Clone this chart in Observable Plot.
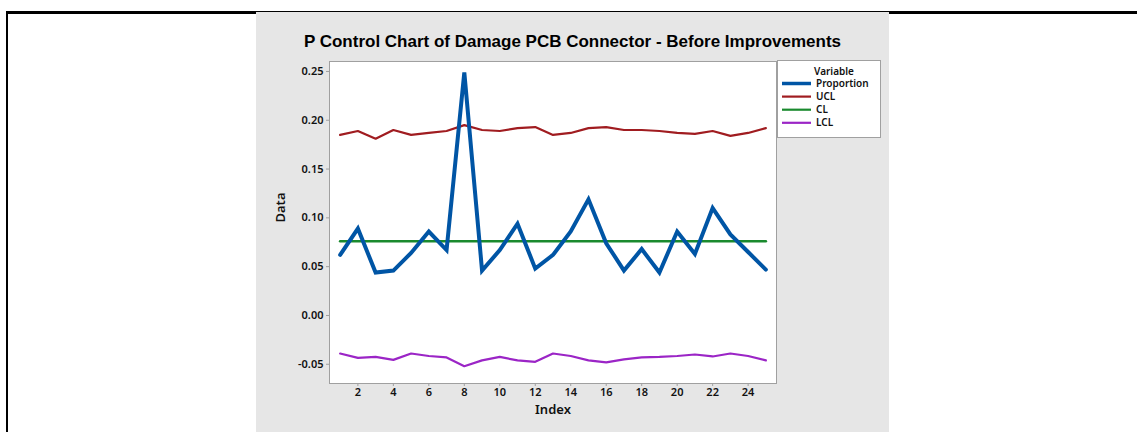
<!DOCTYPE html>
<html>
<head>
<meta charset="utf-8">
<script src="https://cdn.jsdelivr.net/npm/d3@7"></script>
<script src="https://cdn.jsdelivr.net/npm/@observablehq/plot@0.6"></script>
<style>
  html, body { margin: 0; padding: 0; background: #fff; }
  #wrap { position: relative; width: 1137px; height: 432px; overflow: hidden; background: #fff; }
  .abs { position: absolute; }
</style>
</head>
<body>
<div id="wrap">
  <div class="abs" style="left:6px; top:11px; width:1131px; height:3px; background:#000;"></div>
  <div class="abs" style="left:6px; top:11px; width:2px; height:421px; background:#000;"></div>
  <div class="abs" id="panel" style="left:256px; top:12px; width:633px; height:420px; background:#e6e6e6;"></div>
  <div class="abs" id="title" style="left:256px; top:32px; width:633px; text-align:center; font:bold 17px 'Liberation Sans', Arial, sans-serif; color:#000; line-height:20px;"></div>
  <div class="abs" id="chart" style="left:257px; top:12px;"></div>
  <div class="abs" id="legend" style="left:777px; top:60px;"></div>
</div>
<script>
const titleText = "P Control Chart of Damage PCB Connector - Before Improvements";
const indexValues = [1,2,3,4,5,6,7,8,9,10,11,12,13,14,15,16,17,18,19,20,21,22,23,24,25];
const proportion = [0.062,0.089,0.044,0.046,0.064,0.086,0.067,0.249,0.046,0.067,0.094,0.048,0.062,0.086,0.119,0.074,0.046,0.068,0.044,0.086,0.063,0.110,0.083,0.065,0.047];
const ucl = [0.185,0.189,0.181,0.190,0.185,0.187,0.189,0.195,0.190,0.189,0.192,0.193,0.185,0.187,0.192,0.193,0.190,0.190,0.189,0.187,0.186,0.189,0.184,0.187,0.192];
const clValue = 0.076;
const lcl = [-0.039,-0.0435,-0.0425,-0.0455,-0.039,-0.0415,-0.043,-0.052,-0.046,-0.0425,-0.046,-0.0475,-0.039,-0.0415,-0.046,-0.048,-0.045,-0.043,-0.0425,-0.0415,-0.040,-0.042,-0.039,-0.0415,-0.046];
const seriesNames = ["Proportion","UCL","CL","LCL"];
const seriesColors = ["#0055a5","#a01c20","#1a8a2e","#9b25c6"];
const seriesWidths = [4,2.2,2.6,2.2];
const xTicks = [2,4,6,8,10,12,14,16,18,20,22,24];
const yTicks = [-0.05,0,0.05,0.10,0.15,0.20,0.25];
const xLabel = "Index";
const yLabel = "Data";
const legendTitle = "Variable";

document.getElementById("title").textContent = titleText;

const rows = s => indexValues.map((x, i) => ({x, y: s[i]}));
const clRows = indexValues.map(x => ({x, y: clValue}));
const seriesRows = [rows(proportion), rows(ucl), clRows, rows(lcl)];

const font = "'Noto Sans', 'Open Sans', sans-serif";
const chart = Plot.plot({
  width: 632,
  height: 420,
  marginLeft: 72,
  marginRight: 113,
  marginTop: 49,
  marginBottom: 49,
  style: {background: "transparent", fontFamily: font, fontSize: "11px", color: "#000"},
  x: {domain: [0.4, 25.6]},
  y: {domain: [-0.0697, 0.2602]},
  marks: [
    Plot.frame({fill: "white", stroke: "#a0a0a0", strokeWidth: 1}),
    Plot.axisY({ticks: yTicks, tickFormat: d => d.toFixed(2), tickSize: 3, tickPadding: 3, stroke: "#a0a0a0", fill: "#111", fontWeight: 600, label: null}),
    Plot.axisX({ticks: xTicks, tickFormat: d => String(d), tickSize: 3, tickPadding: 2, stroke: "#a0a0a0", fill: "#111", fontWeight: 600, label: null}),
    Plot.text([yLabel], {frameAnchor: "left", dx: -49, rotate: -90, fontSize: 13, fontWeight: 600, fill: "#111"}),
    Plot.text([xLabel], {frameAnchor: "bottom", dy: 30, fontSize: 13, fontWeight: 600, fill: "#111"}),
    Plot.line(seriesRows[1], {x: "x", y: "y", stroke: seriesColors[1], strokeWidth: seriesWidths[1], strokeLinejoin: "miter"}),
    Plot.line(seriesRows[3], {x: "x", y: "y", stroke: seriesColors[3], strokeWidth: seriesWidths[3], strokeLinejoin: "miter"}),
    Plot.line(seriesRows[2], {x: "x", y: "y", stroke: seriesColors[2], strokeWidth: seriesWidths[2]}),
    Plot.line(seriesRows[0], {x: "x", y: "y", stroke: seriesColors[0], strokeWidth: seriesWidths[0], strokeLinejoin: "miter", strokeMiterlimit: 10})
  ]
});
document.getElementById("chart").appendChild(chart);

// legend
const ns = "http://www.w3.org/2000/svg";
const lg = document.createElementNS(ns, "svg");
lg.setAttribute("width", 105);
lg.setAttribute("height", 80);
const box = document.createElementNS(ns, "rect");
box.setAttribute("x", 0.5); box.setAttribute("y", 0.5);
box.setAttribute("width", 103); box.setAttribute("height", 77);
box.setAttribute("fill", "white"); box.setAttribute("stroke", "#a0a0a0");
lg.appendChild(box);
const t0 = document.createElementNS(ns, "text");
t0.setAttribute("x", 57); t0.setAttribute("y", 14.5);
t0.setAttribute("text-anchor", "middle");
t0.setAttribute("style", `font-family:${font}; font-size:10px; font-weight:600; fill:#111`);
t0.textContent = legendTitle;
lg.appendChild(t0);
seriesNames.forEach((name, i) => {
  const cy = 23.5 + i * 13.1;
  const ln = document.createElementNS(ns, "line");
  ln.setAttribute("x1", 5); ln.setAttribute("x2", 34);
  ln.setAttribute("y1", cy); ln.setAttribute("y2", cy);
  ln.setAttribute("stroke", seriesColors[i]);
  ln.setAttribute("stroke-width", i === 0 ? 3.5 : 2.2);
  lg.appendChild(ln);
  const tx = document.createElementNS(ns, "text");
  tx.setAttribute("x", 39); tx.setAttribute("y", cy + 3.5);
  tx.setAttribute("style", `font-family:${font}; font-size:10px; font-weight:600; fill:#111`);
  tx.textContent = name;
  lg.appendChild(tx);
});
document.getElementById("legend").appendChild(lg);
</script>
</body>
</html>
